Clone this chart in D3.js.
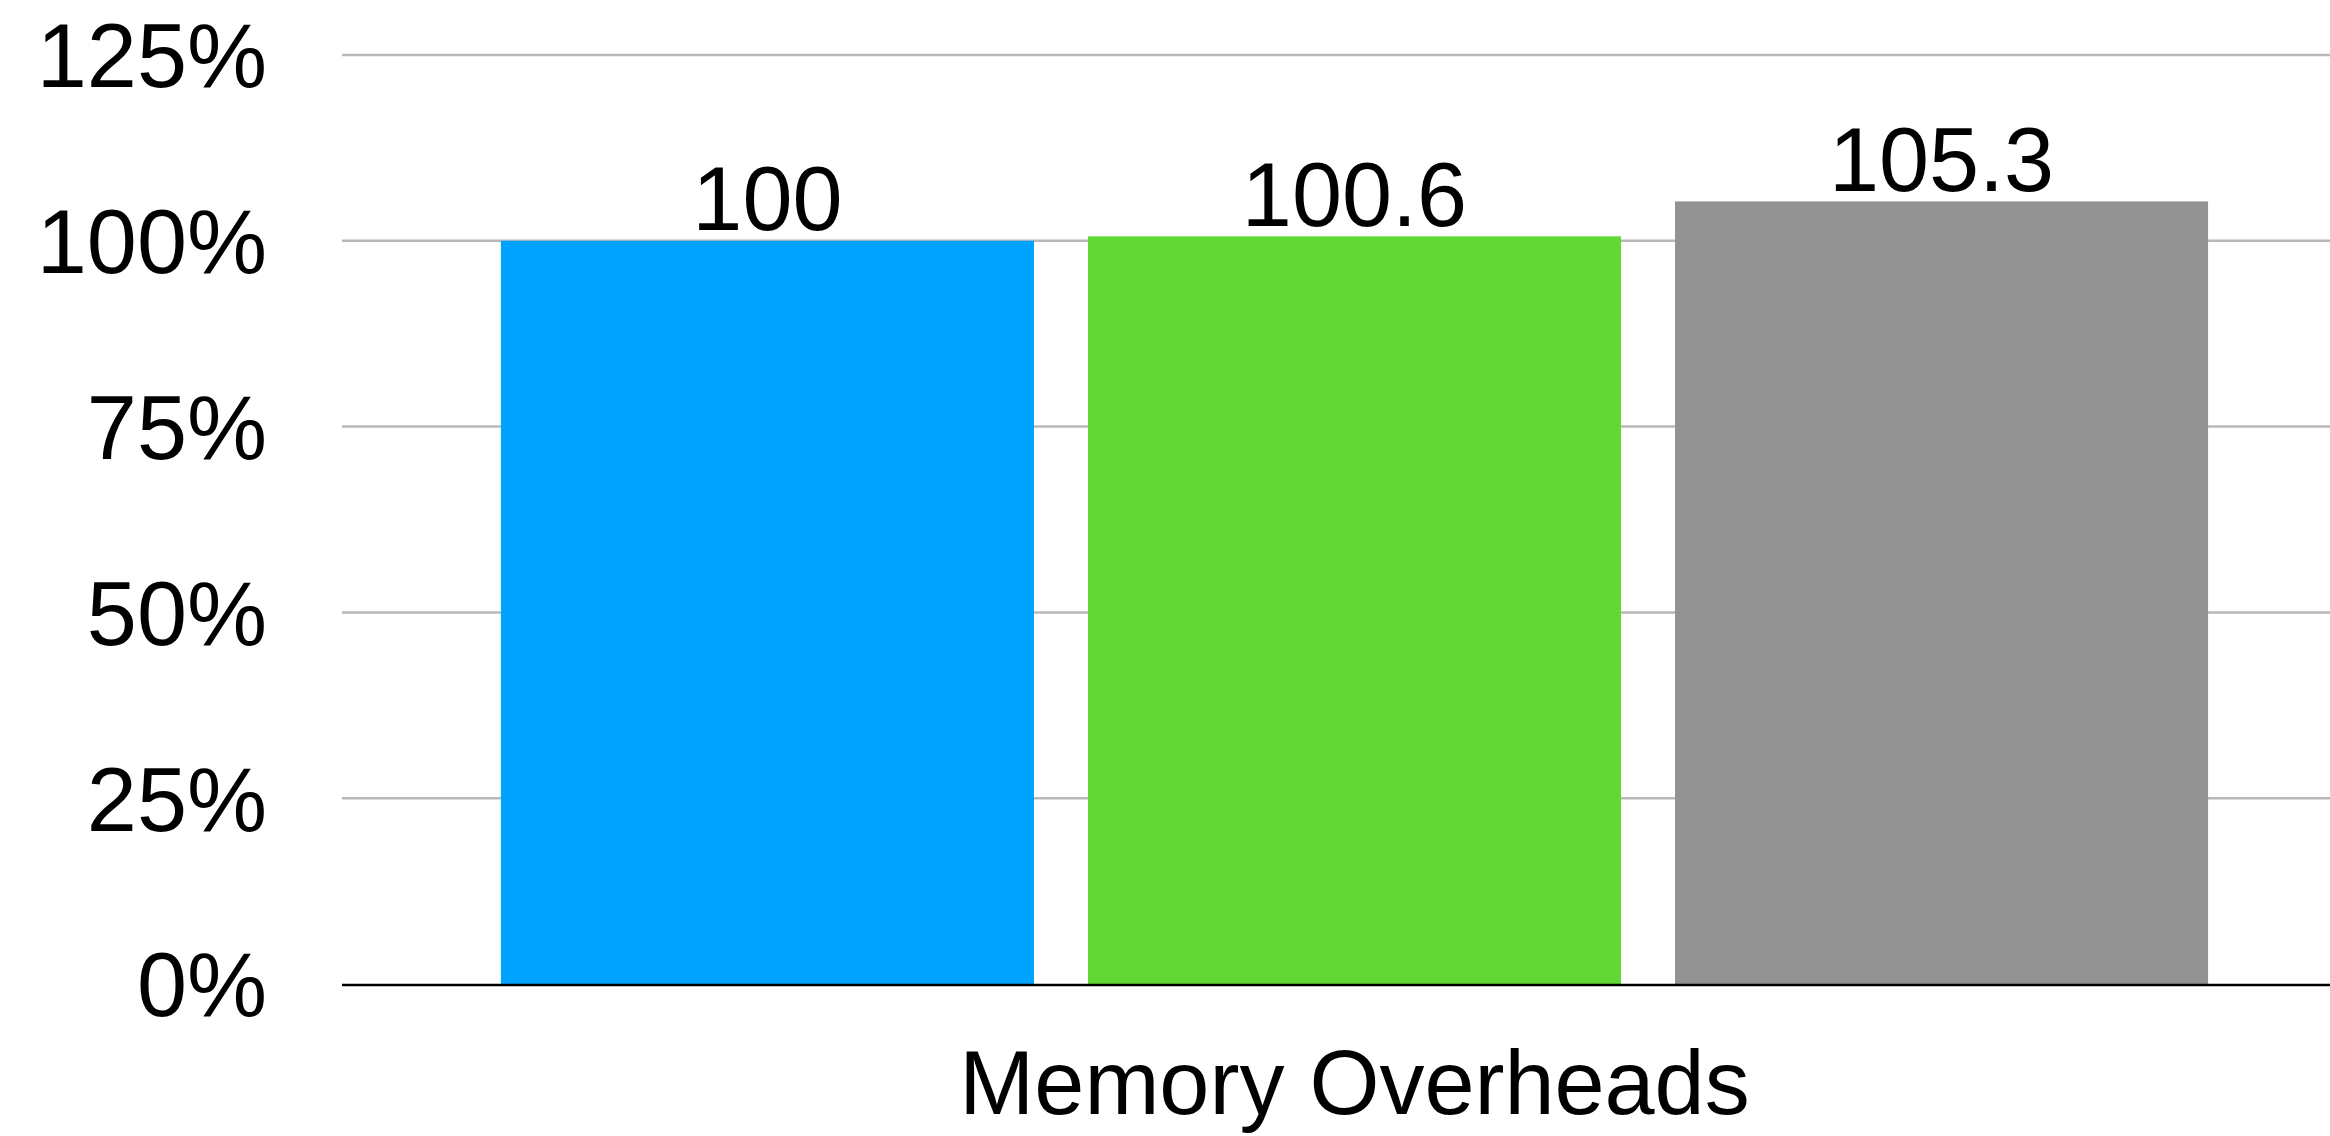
<!DOCTYPE html>
<html>
<head>
<meta charset="utf-8">
<script src="https://cdn.jsdelivr.net/npm/d3@7"></script>
<style>
  html, body { margin: 0; padding: 0; background: #fff; }
  svg { display: block; }
  text { font-family: "Liberation Sans", Arial, Helvetica, sans-serif; fill: #000; }
</style>
</head>
<body>
<svg id="chart" width="2330" height="1136"></svg>
<script>
const categories = ["Memory Overheads"];
const seriesNames = ["A", "B", "C"];
const seriesValues = [100, 100.6, 105.3];
const seriesLabels = ["100", "100.6", "105.3"];
const seriesColors = ["#00A2FF", "#61D836", "#929292"];
const yTicks = [0, 25, 50, 75, 100, 125];
const yTickLabels = ["0%", "25%", "50%", "75%", "100%", "125%"];

const W = 2330, H = 1136;
const svg = d3.select("#chart");

const plotLeft = 342, plotRight = 2367;
const y = d3.scaleLinear().domain([0, 125]).range([984, 55]);

const x0 = d3.scaleBand().domain(categories).range([plotLeft, plotRight])
  .paddingInner(0).paddingOuter(0.0931);
const x1 = d3.scaleBand().domain(seriesNames).range([0, x0.bandwidth()])
  .paddingInner(0.092).paddingOuter(0);

// gridlines
svg.append("g").selectAll("line")
  .data(yTicks.filter(d => d > 0))
  .join("line")
  .attr("x1", plotLeft).attr("x2", W)
  .attr("y1", d => y(d)).attr("y2", d => y(d))
  .attr("stroke", "#b8b8b8").attr("stroke-width", 2.5);

// y tick labels
svg.append("g").selectAll("text")
  .data(yTicks)
  .join("text")
  .attr("x", 267)
  .attr("y", d => y(d))
  .attr("dy", "0.36em")
  .attr("text-anchor", "end")
  .attr("font-size", 90)
  .text((d, i) => yTickLabels[i]);

// bars
const g = svg.append("g").selectAll("g")
  .data(categories)
  .join("g")
  .attr("transform", d => `translate(${x0(d)},0)`);

g.selectAll("rect")
  .data(seriesNames.map((s, i) => ({ s, v: seriesValues[i], c: seriesColors[i], l: seriesLabels[i] })))
  .join("rect")
  .attr("x", d => x1(d.s))
  .attr("width", x1.bandwidth())
  .attr("y", d => y(d.v))
  .attr("height", d => y(0) - y(d.v))
  .attr("fill", d => d.c);

g.selectAll("text.val")
  .data(seriesNames.map((s, i) => ({ s, v: seriesValues[i], l: seriesLabels[i] })))
  .join("text")
  .attr("class", "val")
  .attr("x", d => x1(d.s) + x1.bandwidth() / 2)
  .attr("y", d => y(d.v) - 10.5)
  .attr("text-anchor", "middle")
  .attr("font-size", 90)
  .text(d => d.l);

// baseline axis
svg.append("line")
  .attr("x1", plotLeft).attr("x2", W)
  .attr("y1", y(0) + 1).attr("y2", y(0) + 1)
  .attr("stroke", "#000").attr("stroke-width", 2.5);

// category label
svg.append("g").selectAll("text")
  .data(categories)
  .join("text")
  .attr("x", d => x0(d) + x0.bandwidth() / 2)
  .attr("y", 1114)
  .attr("text-anchor", "middle")
  .attr("font-size", 90)
  .text(d => d);
</script>
</body>
</html>
